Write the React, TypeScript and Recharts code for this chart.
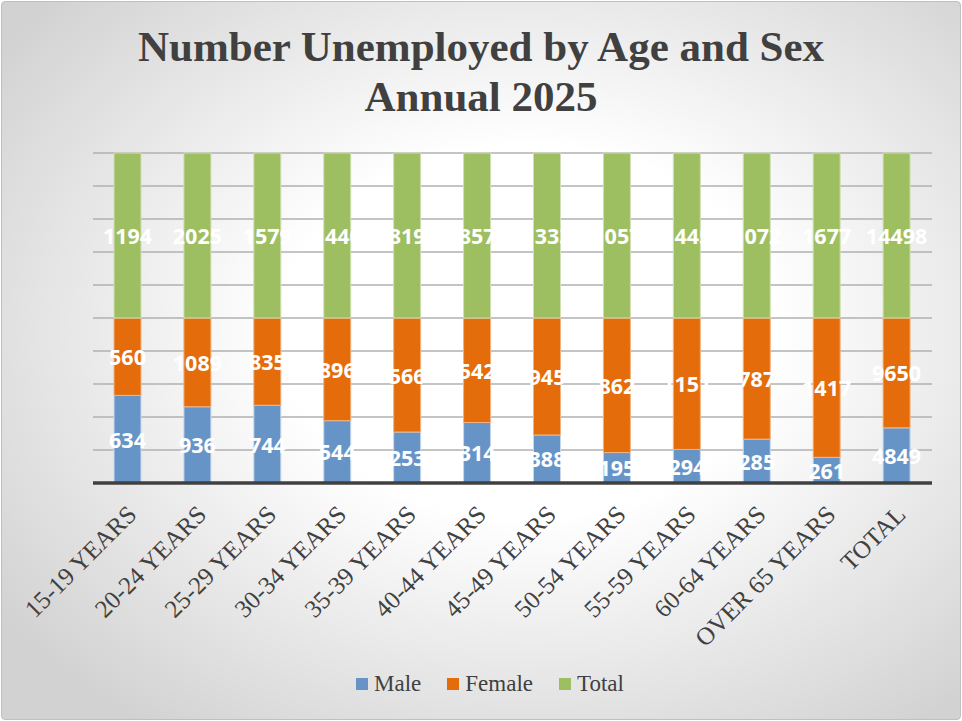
import React from "react";
import { BarChart, Bar, XAxis, YAxis, CartesianGrid, LabelList } from "recharts";

const categories = [
  "15-19 YEARS", "20-24 YEARS", "25-29 YEARS", "30-34 YEARS", "35-39 YEARS", "40-44 YEARS",
  "45-49 YEARS", "50-54 YEARS", "55-59 YEARS", "60-64 YEARS", "OVER 65 YEARS", "TOTAL",
];
const male = [634, 936, 744, 544, 253, 314, 388, 195, 294, 285, 261, 4849];
const female = [560, 1089, 835, 896, 566, 542, 945, 862, 1151, 787, 1417, 9650];
const total = [1194, 2025, 1579, 1440, 819, 857, 1333, 1057, 1445, 1072, 1677, 14498];
const yTicks = [0, 0.1, 0.2, 0.3, 0.4, 0.5, 0.6, 0.7, 0.8, 0.9, 1];

const seriesColors = { male: "#6794C7", female: "#E46C0A", total: "#9EBE62" };

const data = categories.map((c, i) => ({ name: c, male: male[i], female: female[i], total: total[i] }));

const makeLabel = (arr: number[]) => (props: any) => {
  const { x, y, width, height, index } = props;
  return (
    <text
      x={Number(x) + Number(width) / 2}
      y={Number(y) + Number(height) / 2}
      textAnchor="middle"
      dominantBaseline="central"
      fill="#ffffff"
      fontFamily="'Open Sans', sans-serif"
      fontWeight={700}
      fontSize={21.5}
    >
      {arr[index]}
    </text>
  );
};

const Tick = (props: any) => {
  const { x, y, payload } = props;
  return (
    <g transform={`translate(${x + 4},${y + 19})`}>
      <text
        transform="rotate(-45)"
        textAnchor="end"
        dominantBaseline="central"
        fill="#404040"
        fontFamily="'Liberation Serif', 'Times New Roman', serif"
        fontSize={25}
      >
        {payload.value}
      </text>
    </g>
  );
};

const legendItems = [
  { key: "Male", color: seriesColors.male },
  { key: "Female", color: seriesColors.female },
  { key: "Total", color: seriesColors.total },
];

export default function App() {
  return (
    <div style={{ position: "absolute", left: 0, top: 0, width: 962, height: 721, background: "#ffffff" }}>
      <div
        style={{
          position: "absolute",
          left: 1,
          top: 1,
          width: 958,
          height: 717,
          border: "1px solid #bfbfbf",
          borderRadius: 4,
          background: "radial-gradient(ellipse 68% 68% at 55% 46%, #ffffff 0%, #ffffff 38%, #d2d2d2 100%)",
        }}
      />
      <div
        style={{
          position: "absolute",
          left: 0,
          top: 22,
          width: 962,
          textAlign: "center",
          fontFamily: "'Liberation Serif', 'Times New Roman', serif",
          fontWeight: 700,
          fontSize: 43,
          lineHeight: "50px",
          color: "#404040",
        }}
      >
        <div>Number Unemployed by Age and Sex</div>
        <div>Annual 2025</div>
      </div>
      <div style={{ position: "absolute", left: 0, top: 0 }}>
        <BarChart
          width={962}
          height={721}
          data={data}
          stackOffset="expand"
          barSize={27}
          margin={{ top: 153, right: 30, left: 93, bottom: 88 }}
        >
          <CartesianGrid horizontal={true} vertical={false} stroke="#b0b0b0" strokeWidth={1.5} />
          <YAxis hide domain={[0, 1]} ticks={yTicks} />
          <XAxis
            dataKey="name"
            interval={0}
            height={150}
            tickLine={false}
            axisLine={{ stroke: "#404040", strokeWidth: 3.5 }}
            tick={<Tick />}
          />
          <Bar dataKey="male" stackId="a" fill={seriesColors.male} stroke="#c8d8ec" strokeWidth={1} isAnimationActive={false}>
            <LabelList dataKey="male" content={makeLabel(male)} />
          </Bar>
          <Bar dataKey="female" stackId="a" fill={seriesColors.female} stroke="#f2b27f" strokeWidth={1} isAnimationActive={false}>
            <LabelList dataKey="female" content={makeLabel(female)} />
          </Bar>
          <Bar dataKey="total" stackId="a" fill={seriesColors.total} stroke="#d0e0b2" strokeWidth={1} isAnimationActive={false}>
            <LabelList dataKey="total" content={makeLabel(total)} />
          </Bar>
        </BarChart>
      </div>
      <div
        style={{
          position: "absolute",
          left: 0,
          top: 671,
          width: 962,
          display: "flex",
          justifyContent: "center",
          alignItems: "center",
          gap: 26,
          paddingLeft: 18,
          boxSizing: "border-box",
          fontFamily: "'Liberation Serif', 'Times New Roman', serif",
          fontSize: 23,
          color: "#404040",
        }}
      >
        {legendItems.map((it) => (
          <div key={it.key} style={{ display: "flex", alignItems: "center" }}>
            <span style={{ display: "inline-block", width: 12, height: 12, background: it.color, marginRight: 6 }} />
            <span>{it.key}</span>
          </div>
        ))}
      </div>
    </div>
  );
}
